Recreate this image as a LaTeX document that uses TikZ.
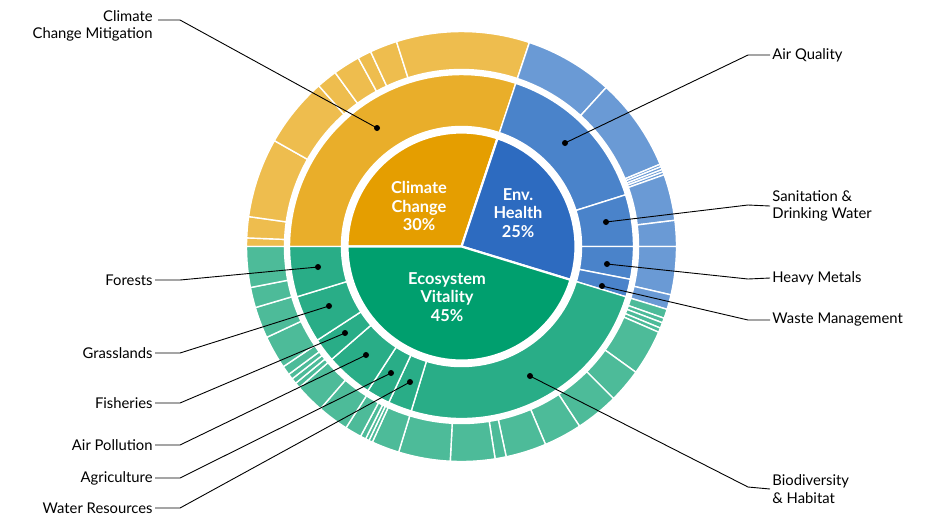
\documentclass[tikz,border=0pt]{standalone}
\usepackage{fontspec}
\setmainfont{Lato}
\definecolor{ccIn}{HTML}{E59E00}
\definecolor{ccMid}{HTML}{E9AE2A}
\definecolor{ccOut}{HTML}{EEBD4E}
\definecolor{ehIn}{HTML}{2D6BC0}
\definecolor{ehMid}{HTML}{4A83CA}
\definecolor{ehOut}{HTML}{6A9AD5}
\definecolor{evIn}{HTML}{009F6E}
\definecolor{evMid}{HTML}{29AD87}
\definecolor{evOut}{HTML}{4DBB99}
\newcommand\ringpart[5]{\filldraw[#5] (#3:#1) arc[start angle=#3,end angle=#4,radius=#1] -- (#4:#2) arc[start angle=#4,end angle=#3,radius=#2] -- cycle;}
\begin{document}
\begin{tikzpicture}
[x=0.5pt, y=-0.5pt, font=\fontsize{7.4}{8.6}\selectfont,
seg/.style={draw=white, line width=0.7pt},
core/.style={draw=white, line width=1.1pt},
mid/.style={font=\fontsize{8.2}{9.4}\selectfont\bfseries, text=white, align=center},
lab/.style={inner sep=1pt, align=left},
labl/.style={inner sep=1pt, align=right},
leader/.style={line width=0.45pt},
dot/.style={circle, fill=black, inner sep=0pt, minimum size=3pt}]

\useasboundingbox (0,0) rectangle (941,527);

\begin{scope}[shift={(461.5,246.5)}, yscale=-1]
% inner pie
\foreach \a/\b/\c in {180/71.6/ccIn, 71.6/-17/ehIn, -17/-180/evIn}
  {\filldraw[fill=\c, core] (0,0) -- (\a:114) arc[start angle=\a,end angle=\b,radius=114] -- cycle;}
% middle ring
\foreach \a/\b/\c in {180/71.6/ccMid, 71.6/17.5/ehMid, 17.5/0/ehMid, 0/-11/ehMid, -11/-17/ehMid,
  -17/-107/evMid, -107/-115/evMid, -115/-123/evMid, -123/-139/evMid, -139/-147/evMid,
  -147/-163/evMid, -163/-180/evMid}
  {\ringpart{120}{172}{\a}{\b}{fill=\c, seg}}
% outer ring
\foreach \a/\b in {180/177.7, 177.7/172, 172/150.5, 150.5/131.6, 131.6/126, 126/118.7,
  118.7/115, 115/107.6, 107.6/71.6}
  {\ringpart{177}{215}{\a}{\b}{fill=ccOut, seg}}
\foreach \a/\b in {71.6/47.7, 47.7/22.5, 22.5/21.8, 21.8/21, 21/20.3, 20.3/19.5, 19.5/7,
  7/0, 0/-13, -13/-17}
  {\ringpart{177}{215}{\a}{\b}{fill=ehOut, seg}}
\foreach \a/\b in {-17/-19.5, -19.5/-20.8, -20.8/-22.3, -22.3/-23.5, -23.5/-35.8, -35.8/-45,
  -45/-56.7, -56.7/-67, -67/-78, -78/-81, -81/-93, -93/-107, -107/-114.5, -114.5/-115.5,
  -115.5/-116.5, -116.5/-118, -118/-122.5, -122.5/-131, -131/-139, -139/-140.5,
  -140.5/-142, -142/-143.5, -143.5/-146, -146/-155, -155/-163.5, -163.5/-169, -169/-180}
  {\ringpart{177}{215}{\a}{\b}{fill=evOut, seg}}
\end{scope}

% centre texts
\node[mid] (cc) at (419,206) {Climate\\Change\\30\%};
\node[mid] (eh) at (518,213) {Env.\\Health\\25\%};
\node[mid] (ev) at (447,297) {Ecosystem\\Vitality\\45\%};

% dots
\node[dot] (dCCM) at (377,128) {};
\node[dot] (dAQ) at (565,143) {};
\node[dot] (dSan) at (606,222) {};
\node[dot] (dHM) at (607,264) {};
\node[dot] (dWM) at (602,286) {};
\node[dot] (dBio) at (530,376) {};
\node[dot] (dFor) at (318,267) {};
\node[dot] (dGra) at (329,306) {};
\node[dot] (dFis) at (345,333) {};
\node[dot] (dAir) at (366,355) {};
\node[dot] (dAgr) at (391,373) {};
\node[dot] (dWat) at (410,382) {};

% right labels
\node[lab, anchor=west] (tAQ) at (770,55) {Air Quality};
\node[lab, anchor=west] (tSan) at (770,206) {Sanitation \&\\Drinking Water};
\node[lab, anchor=west] (tHM) at (770,278) {Heavy Metals};
\node[lab, anchor=west] (tWM) at (770,320) {Waste Management};
\node[lab, anchor=west] (tBio) at (770,489) {Biodiversity\\\& Habitat};
% left labels
\node[labl, anchor=east] (tCCM) at (155,26) {Climate\\Change Mitigation};
\node[labl, anchor=east] (tFor) at (155,280) {Forests};
\node[labl, anchor=east] (tGra) at (155,353) {Grasslands};
\node[labl, anchor=east] (tFis) at (155,403) {Fisheries};
\node[labl, anchor=east] (tAir) at (155,445) {Air Pollution};
\node[labl, anchor=east] (tAgr) at (155,478) {Agriculture};
\node[labl, anchor=east] (tWat) at (155,508) {Water Resources};

% leaders
\draw[leader] (dAQ.center) -- (748,55) -- (tAQ.west);
\draw[leader] (dSan.center) -- (748,205) -- (tSan.west);
\draw[leader] (dHM.center) -- (748,279) -- (tHM.west);
\draw[leader] (dWM.center) -- (748,320) -- (tWM.west);
\draw[leader] (dBio.center) -- (748,487) -- (tBio.west);
\draw[leader] (dCCM.center) -- (180,20) -- (158,20);
\draw[leader] (dFor.center) -- (180,280) -- (tFor.east);
\draw[leader] (dGra.center) -- (180,353) -- (tGra.east);
\draw[leader] (dFis.center) -- (180,403) -- (tFis.east);
\draw[leader] (dAir.center) -- (180,445) -- (tAir.east);
\draw[leader] (dAgr.center) -- (180,478) -- (tAgr.east);
\draw[leader] (dWat.center) -- (180,508) -- (tWat.east);
\end{tikzpicture}
\end{document}
